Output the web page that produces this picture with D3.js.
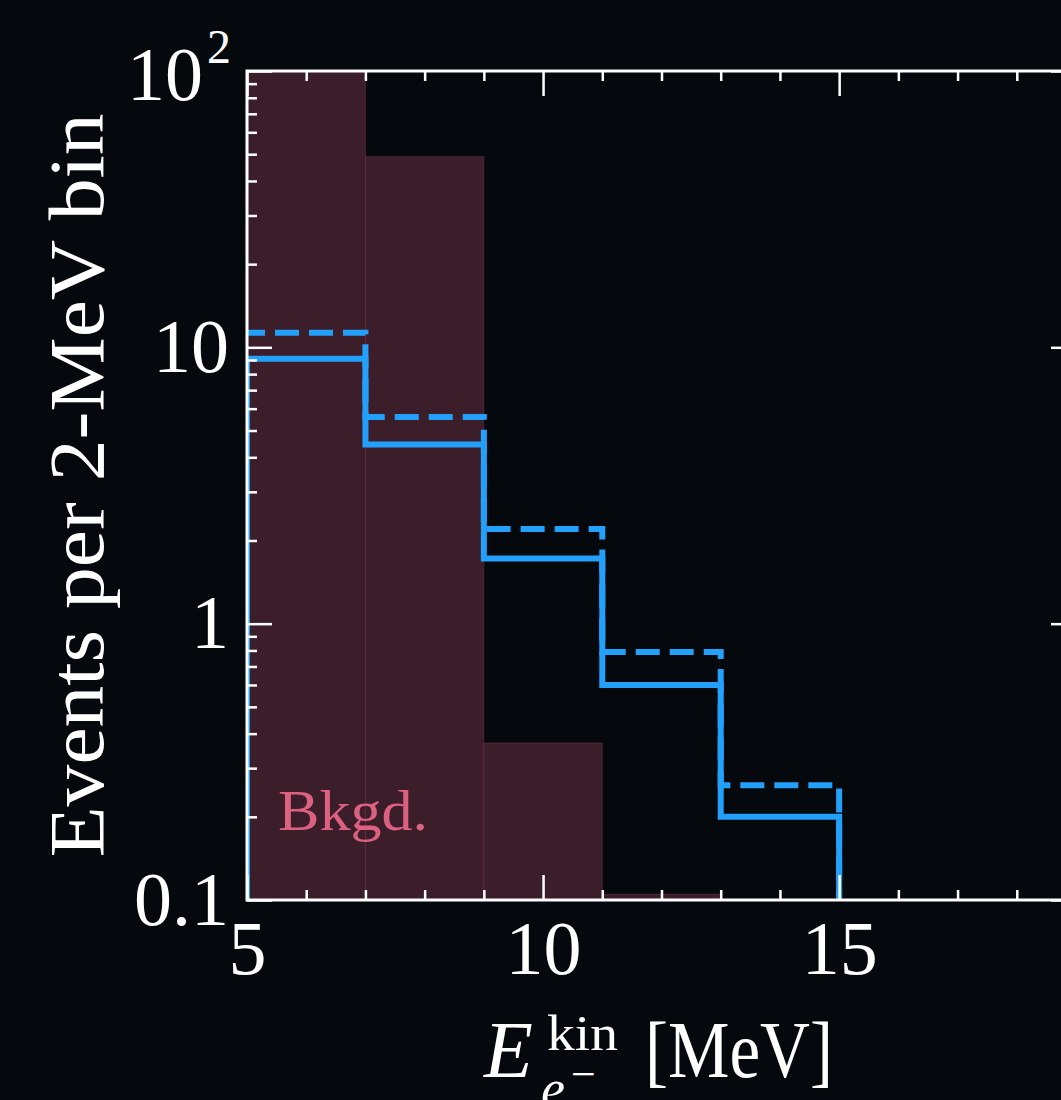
<!DOCTYPE html>
<html>
<head>
<meta charset="utf-8">
<script src="https://cdn.jsdelivr.net/npm/d3@7"></script>
<style>
  html, body { margin: 0; padding: 0; background: #05090d; }
  svg { display: block; }
  text { font-family: "Liberation Serif", "DejaVu Serif", serif; fill: #ffffff; }
</style>
</head>
<body>
<script>
// bin edges in MeV (2-MeV bins)
var binEdges = [5, 7, 9, 11, 13, 15];
// background events per bin (first bin runs off the top)
var bkgdValues = [150, 49, 0.37, 0.105];
// signal, solid and dashed
var solidValues = [9.1, 4.45, 1.72, 0.60, 0.20];
var dashedValues = [11.3, 5.6, 2.2, 0.79, 0.26];

var xDomain = [5, 19];
var yDomain = [0.1, 100];
var xMajor = [5, 10, 15];
var yMajor = [0.1, 1, 10, 100];
var yLabels = ["0.1", "1", "10", "10"];

var svgWidth = 1061;
var svgHeight = 1100;
var margin = { top: 71, left: 247 };
var width = 829;
var height = 829;

var svg = d3.select("body")
  .append("svg")
  .attr("width", svgWidth)
  .attr("height", svgHeight);

svg.append("rect")
  .attr("width", svgWidth)
  .attr("height", svgHeight)
  .attr("fill", "#05090d");

var chartGroup = svg.append("g")
  .attr("transform", `translate(${margin.left}, ${margin.top})`);

chartGroup.append("clipPath")
  .attr("id", "plotclip")
  .append("rect")
  .attr("width", width)
  .attr("height", height);

var xScale = d3.scaleLinear().domain(xDomain).range([0, width]);
var yScale = d3.scaleLog().domain(yDomain).range([height, 0]);

// background bars
var plot = chartGroup.append("g").attr("clip-path", "url(#plotclip)");

plot.selectAll(".bkgd")
  .data(bkgdValues)
  .enter()
  .append("rect")
  .attr("class", "bkgd")
  .attr("x", (d, i) => xScale(binEdges[i]))
  .attr("width", (d, i) => xScale(binEdges[i + 1]) - xScale(binEdges[i]))
  .attr("y", d => yScale(d))
  .attr("height", d => height - yScale(d))
  .attr("fill", "#3c1e2a")
  .attr("stroke", "rgba(200,80,120,0.25)")
  .attr("stroke-width", 1);

// step outline for a histogram
function stepPoints(values, fromFloor) {
  var pts = [];
  if (fromFloor) pts.push([binEdges[0], yDomain[0]]);
  values.forEach(function(v, i) {
    pts.push([binEdges[i], v]);
    pts.push([binEdges[i + 1], v]);
  });
  pts.push([binEdges[values.length], yDomain[0]]);
  return pts;
}

var line = d3.line()
  .x(d => xScale(d[0]))
  .y(d => yScale(d[1]));

plot.append("path")
  .attr("d", line(stepPoints(dashedValues, false)))
  .attr("fill", "none")
  .attr("stroke", "#23a0fa")
  .attr("stroke-width", 6)
  .attr("stroke-dasharray", "24,10")
  .attr("stroke-dashoffset", 6);

plot.append("path")
  .attr("d", line(stepPoints(solidValues, true)))
  .attr("fill", "none")
  .attr("stroke", "#23a0fa")
  .attr("stroke-width", 6);

// minor ticks
var xMinor = d3.range(xDomain[0], xDomain[1] + 1).filter(v => xMajor.indexOf(v) < 0);
var yMinor = [];
[0.1, 1, 10].forEach(function(dec) {
  for (var k = 2; k <= 9; k++) yMinor.push(dec * k);
});

function styleTicks(g) {
  g.select(".domain").remove();
  g.selectAll(".tick line").attr("stroke", "#ffffff").attr("stroke-width", 2.5);
}

chartGroup.append("g")
  .attr("transform", `translate(0, ${height})`)
  .call(d3.axisBottom(xScale).tickValues(xMinor).tickFormat("").tickSizeInner(-10).tickSizeOuter(0))
  .call(styleTicks);
chartGroup.append("g")
  .call(d3.axisTop(xScale).tickValues(xMinor).tickFormat("").tickSizeInner(-10).tickSizeOuter(0))
  .call(styleTicks);
chartGroup.append("g")
  .call(d3.axisLeft(yScale).tickValues(yMinor).tickFormat("").tickSizeInner(-10).tickSizeOuter(0))
  .call(styleTicks);
chartGroup.append("g")
  .attr("transform", `translate(${width}, 0)`)
  .call(d3.axisRight(yScale).tickValues(yMinor).tickFormat("").tickSizeInner(-10).tickSizeOuter(0))
  .call(styleTicks);

// major ticks
var xAxis = chartGroup.append("g")
  .attr("class", "x-axis")
  .attr("transform", `translate(0, ${height})`)
  .call(d3.axisBottom(xScale).tickValues(xMajor).tickFormat(d3.format("d")).tickSizeInner(-25).tickSizeOuter(0).tickPadding(20))
  .call(styleTicks);
chartGroup.append("g")
  .call(d3.axisTop(xScale).tickValues(xMajor).tickFormat("").tickSizeInner(-25).tickSizeOuter(0))
  .call(styleTicks);
var yAxis = chartGroup.append("g")
  .attr("class", "y-axis")
  .call(d3.axisLeft(yScale).tickValues(yMajor).tickFormat((d, i) => yLabels[i]).tickSizeInner(-25).tickSizeOuter(0).tickPadding(18))
  .call(styleTicks);
chartGroup.append("g")
  .attr("transform", `translate(${width}, 0)`)
  .call(d3.axisRight(yScale).tickValues(yMajor).tickFormat("").tickSizeInner(-25).tickSizeOuter(0))
  .call(styleTicks);

xAxis.selectAll("text")
  .attr("font-family", "Liberation Serif")
  .attr("font-size", 76)
  .attr("fill", "#ffffff");
yAxis.selectAll("text")
  .attr("font-family", "Liberation Serif")
  .attr("font-size", 76)
  .attr("fill", "#ffffff");

// exponent on the top label
yAxis.selectAll(".tick")
  .filter(d => d === 100)
  .select("text")
  .attr("x", -16)
  .attr("dy", "0.38em")
  .append("tspan")
  .attr("font-size", 48)
  .attr("dx", 4)
  .attr("dy", "-0.78em")
  .text("2");

// spines drawn over the data
chartGroup.append("rect")
  .attr("width", width)
  .attr("height", height)
  .attr("fill", "none")
  .attr("stroke", "#ffffff")
  .attr("stroke-width", 3);

// Bkgd. label
chartGroup.append("text")
  .attr("x", 31)
  .attr("y", 759)
  .attr("font-size", 58)
  .attr("textLength", 150)
  .attr("lengthAdjust", "spacingAndGlyphs")
  .style("fill", "#dc6180")
  .text("Bkgd.");

// y label
svg.append("text")
  .attr("transform", "translate(103," + (margin.top + height / 2) + ") rotate(-90)")
  .attr("text-anchor", "middle")
  .attr("font-size", 78)
  .attr("textLength", 744)
  .attr("lengthAdjust", "spacingAndGlyphs")
  .text("Events per 2-MeV bin");

// x label: E^kin_{e-} [MeV]
var xlab = svg.append("g").attr("transform", "translate(0, 1077)");
xlab.append("text")
  .attr("x", 484)
  .attr("font-size", 80)
  .attr("font-style", "italic")
  .text("E");
xlab.append("text")
  .attr("x", 547)
  .attr("y", -27)
  .attr("font-size", 50)
  .attr("textLength", 71)
  .attr("lengthAdjust", "spacingAndGlyphs")
  .text("kin");
xlab.append("text")
  .attr("x", 541)
  .attr("y", 30)
  .attr("font-size", 54)
  .attr("font-style", "italic")
  .text("e");
xlab.append("text")
  .attr("x", 571)
  .attr("y", 12)
  .attr("font-size", 44)
  .text("\u2212");
xlab.append("text")
  .attr("x", 645)
  .attr("font-size", 80)
  .attr("textLength", 188)
  .attr("lengthAdjust", "spacingAndGlyphs")
  .text("[MeV]");
</script>
</body>
</html>
